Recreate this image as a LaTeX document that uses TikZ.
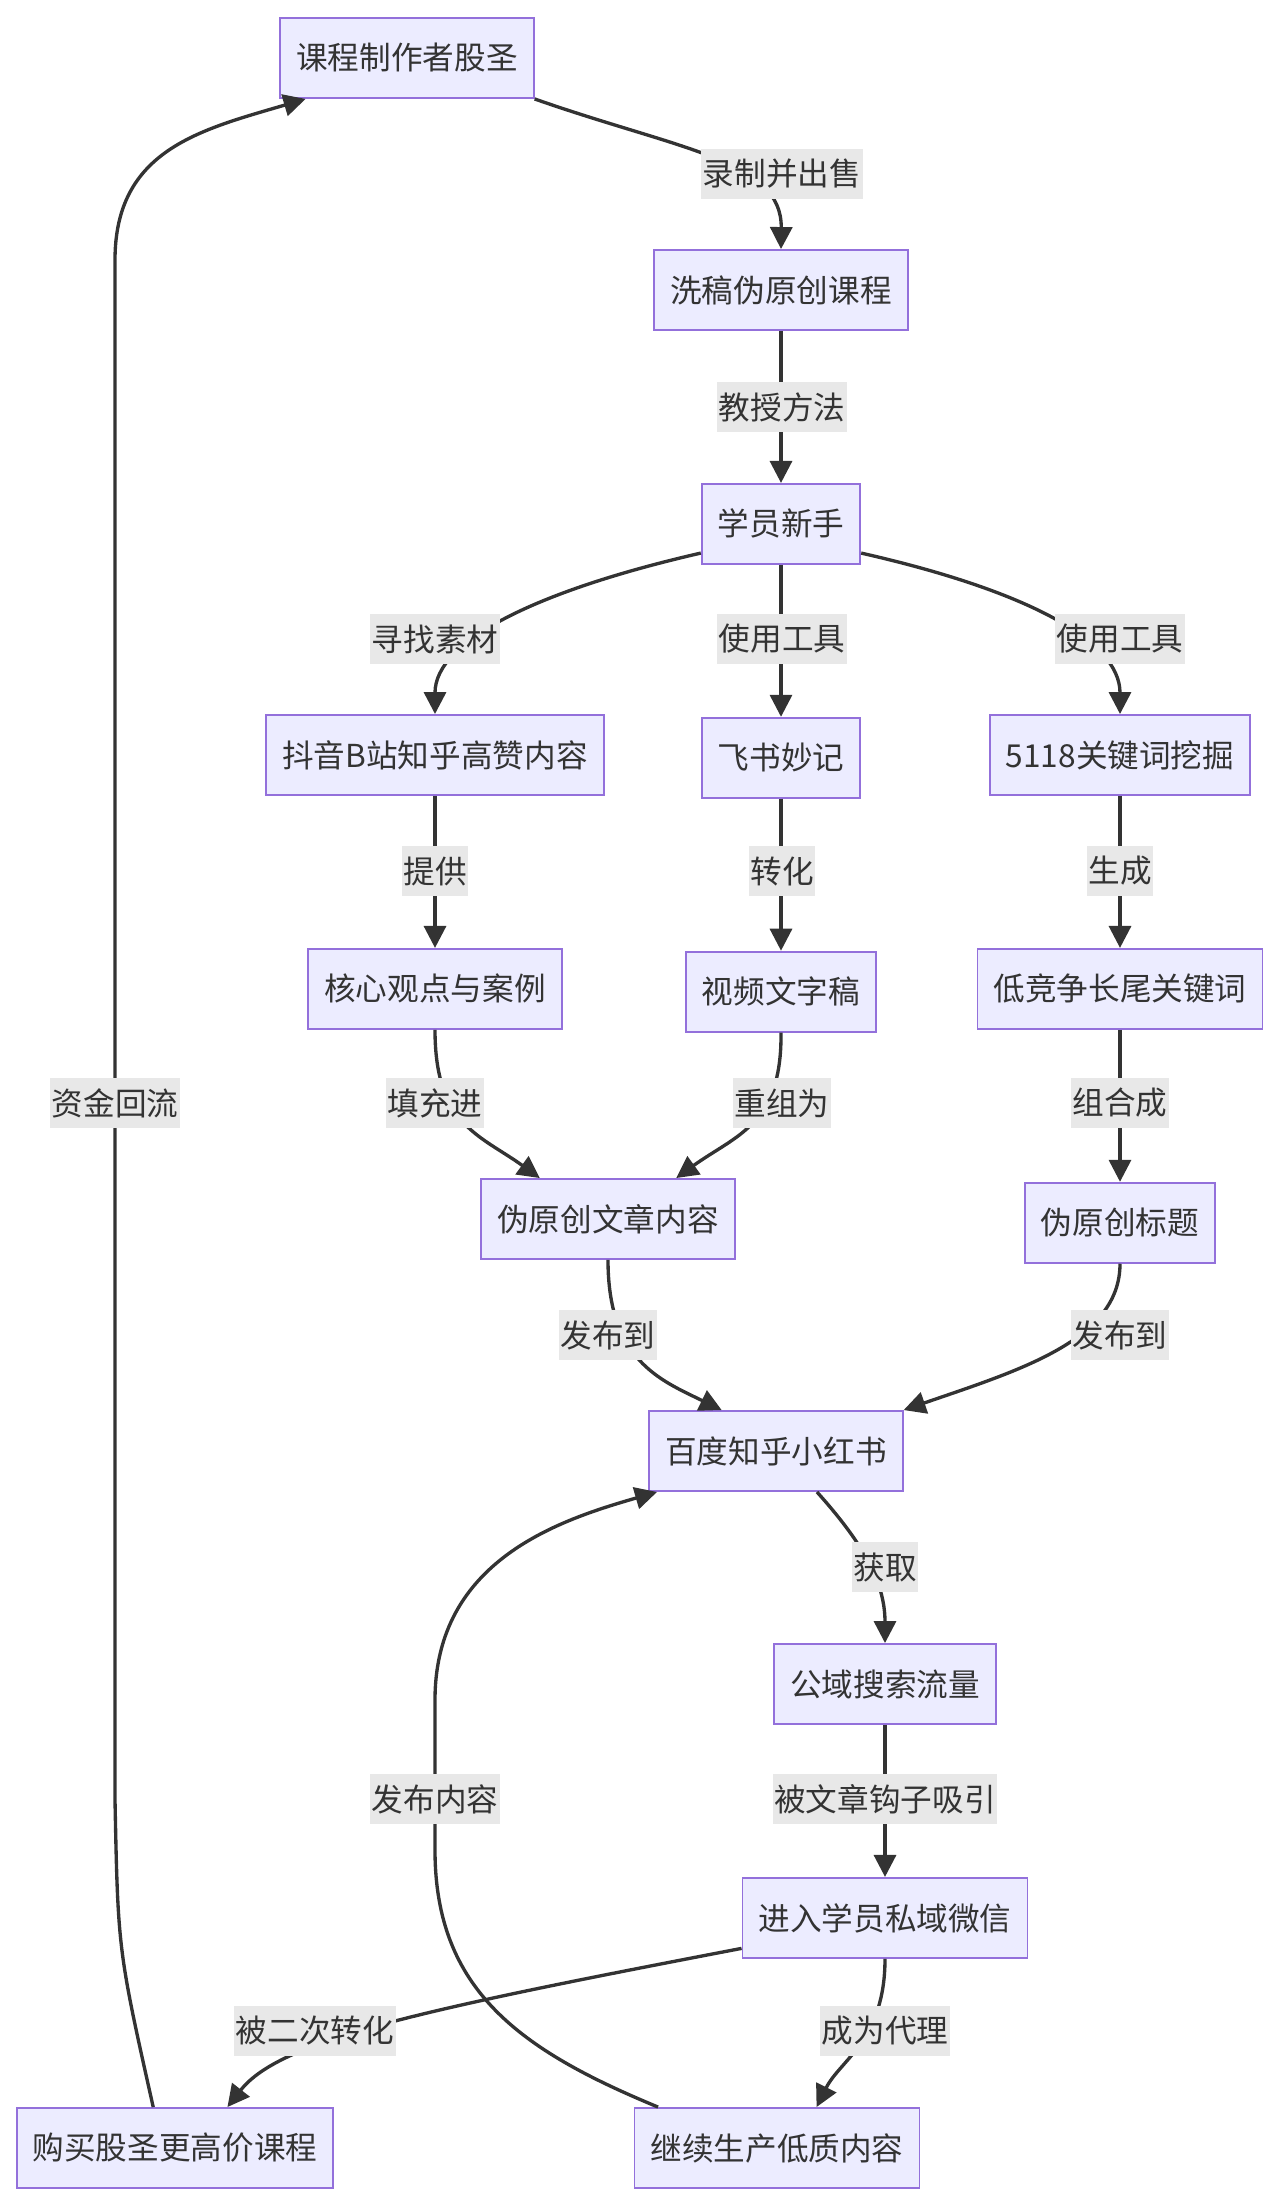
\documentclass[tikz,border=0pt]{standalone}
\usepackage{fontspec}
\setmainfont{Noto Sans CJK SC}
\usetikzlibrary{arrows.meta,positioning}
\definecolor{boxfill}{HTML}{ECECFF}
\definecolor{boxline}{HTML}{9370DB}
\definecolor{edgeline}{HTML}{333333}
\definecolor{labelbg}{HTML}{E8E8E8}

\begin{document}
\begin{tikzpicture}[
  x=0.02cm, y=-0.02cm,
  node distance=3.04cm,
  font=\fontsize{18pt}{22pt}\selectfont,
  box/.style={draw=boxline,line width=1.1pt,fill=boxfill,text=edgeline,minimum height=1.6cm,inner xsep=0.32cm,inner ysep=0pt},
  lbl/.style={fill=labelbg,text=edgeline,inner xsep=1pt,inner ysep=0pt,minimum height=1cm},
  arrow/.style={-{Triangle[length=0.44cm,width=0.44cm]},line width=1.9pt,draw=edgeline}
]
\useasboundingbox (0,0) rectangle (1280,2206);
\node[box] (producer) at (407,58) {课程制作者股圣};
\node[box] (course) at (781,290) {洗稿伪原创课程};
\node[box,below=of course] (student) {学员新手};
\node[box,below=of student] (feishu) {飞书妙记};
\node[box,minimum width=6.7cm] (source) at (435,755) {抖音B站知乎高赞内容};
\node[box] (kw) at (1120,755) {5118关键词挖掘};
\node[box,below=of source] (core) {核心观点与案例};
\node[box,below=of feishu] (script) {视频文字稿};
\node[box,below=of kw] (longtail) {低竞争长尾关键词};
\node[box] (article) at (608,1219) {伪原创文章内容};
\node[box,below=of longtail] (title) {伪原创标题};
\node[box] (platform) at (776,1451) {百度知乎小红书};
\node[box] (traffic) at (885,1684) {公域搜索流量};
\node[box,below=of traffic] (wechat) {进入学员私域微信};
\node[box] (buy) at (175,2148) {购买股圣更高价课程};
\node[box] (agent) at (777,2148) {继续生产低质内容};

\draw[arrow] (producer.south east) .. controls (680,150) and (782,160) .. (course.north);
\draw[arrow] (course) -- (student);
\draw[arrow] (student.-160) .. controls (540,590) and (435,640) .. (source.north);
\draw[arrow] (student) -- (feishu);
\draw[arrow] (student.-20) .. controls (1024,590) and (1120,640) .. (kw.north);
\draw[arrow] (source) -- (core);
\draw[arrow] (feishu) -- (script);
\draw[arrow] (kw) -- (longtail);
\draw[arrow] (core.south) .. controls (435,1125) and (480,1135) .. (article.149);
\draw[arrow] (script.south) .. controls (782,1125) and (736,1135) .. (article.31);
\draw[arrow] (longtail) -- (title);
\draw[arrow] (article.south) .. controls (608,1360) and (660,1380) .. (platform.143);
\draw[arrow] (title.south) .. controls (1120,1340) and (1020,1370) .. (platform.north east);
\draw[arrow] (platform.-45) .. controls (860,1540) and (885,1580) .. (traffic.north);
\draw[arrow] (traffic) -- (wechat);
\draw[arrow] (wechat.-168) .. controls (420,2010) and (280,2040) .. (buy.38);
\draw[arrow] (wechat.south) .. controls (885,2040) and (840,2060) .. (agent.46);
\draw[arrow] (buy.118) .. controls (118,1950) .. (115,1800) -- (115,260) .. controls (115,150) and (200,130) .. (producer.-158);
\draw[arrow] (agent.161) .. controls (520,2050) and (435,1990) .. (435,1850) -- (435,1700) .. controls (435,1560) and (560,1520) .. (platform.-161);

% edge labels
\node[lbl] (lrecord) at (782,174) {录制并出售};
\node[lbl] (lteach) at (782,407) {教授方法};
\node[lbl] (lsearch) at (435,639) {寻找素材};
\node[lbl] (ltoolmid) at (782,639) {使用工具};
\node[lbl] (ltoolright) at (1120,639) {使用工具};
\node[lbl] (lgive) at (435,871) {提供};
\node[lbl] (lconvert) at (782,871) {转化};
\node[lbl] (lgen) at (1120,871) {生成};
\node[lbl] (lfill) at (435,1103) {填充进};
\node[lbl] (lregroup) at (782,1103) {重组为};
\node[lbl] (lcombine) at (1120,1103) {组合成};
\node[lbl] (lpubleft) at (608,1335) {发布到};
\node[lbl] (lpubright) at (1120,1335) {发布到};
\node[lbl] (lgain) at (885,1567) {获取};
\node[lbl] (lhook) at (885,1799) {被文章钩子吸引};
\node[lbl] (lsecond) at (315,2031) {被二次转化};
\node[lbl] (lagent) at (885,2031) {成为代理};
\node[lbl] (lmoney) at (115,1103) {资金回流};
\node[lbl] (lpost) at (435,1799) {发布内容};
\end{tikzpicture}
\end{document}
